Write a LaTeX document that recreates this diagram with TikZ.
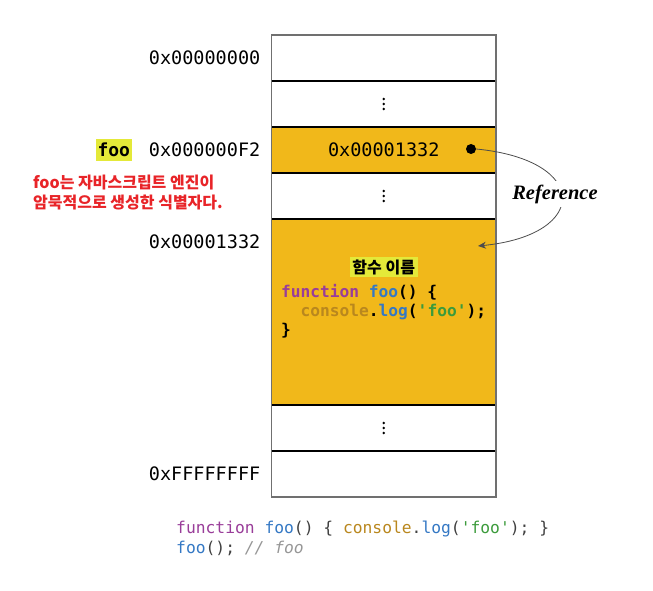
\documentclass[tikz,border=0pt]{standalone}
\usepackage{fontspec}
\setmonofont{DejaVu Sans Mono}
\newfontfamily\kr{Noto Sans CJK KR}
\newfontfamily\refserif{Liberation Serif}
\usepackage{tikz}
\usetikzlibrary{arrows.meta,positioning,calc}
\definecolor{memyellow}{RGB}{241,184,26}
\definecolor{hlyellow}{RGB}{228,233,57}
\definecolor{framegray}{RGB}{112,112,112}
\definecolor{notered}{RGB}{232,36,40}
\definecolor{kwpurple}{RGB}{153,61,153}
\definecolor{fnblue}{RGB}{52,120,196}
\definecolor{objochre}{RGB}{185,135,30}
\definecolor{strgreen}{RGB}{60,155,60}
\definecolor{cmtgray}{RGB}{150,150,150}

\begin{document}
\begin{tikzpicture}[
  x=1pt, y=-1pt,
  row/.style={
    draw=black,
    line width=1.2pt,
    minimum width=224.5pt,
    minimum height=46pt,
    inner sep=0pt,
    outer sep=0pt,
    font=\ttfamily\fontsize{18.5}{20}\selectfont
  },
  addr/.style={inner sep=0pt, font=\ttfamily\fontsize{18.5}{20}\selectfont},
  hl/.style={fill=hlyellow, inner xsep=1.5pt, inner ysep=2pt},
  refline/.style={draw=black!70, line width=0.8pt, -{Stealth[length=8pt,width=7pt]}}
]
\useasboundingbox (0,0) rectangle (653,591);

% memory cells
\node[row, anchor=north west] (r1) at (271.5,35) {};
\node[row, below=0pt of r1] (r2) {};
\node[row, fill=memyellow, below=0pt of r2] (r3) {0x00001332};
\node[row, below=0pt of r3] (r4) {};
\node[row, fill=memyellow, minimum height=186pt, below=0pt of r4] (r5) {};
\node[row, below=0pt of r5] (r6) {};
\node[row, below=0pt of r6] (r7) {};
\draw[framegray, line width=1.5pt] (r1.north west) rectangle (r7.south east);
\foreach \r in {r2,r4,r6}
  \foreach \d in {-5,0,5}
    \fill ($(\r.center)+(0,\d)$) circle (1.3pt);

% addresses
\node[addr, left=11pt of r1] (a1) {0x00000000};
\node[addr, left=11pt of r3] (a3) {0x000000F2};
\node[addr, anchor=east] (a5) at ($(r5.north west)+(-11,23)$) {0x00001332};
\node[addr, left=11pt of r7] (a7) {0xFFFFFFFF};

\node[hl, minimum height=21pt, font=\ttfamily\bfseries\fontsize{18}{20}\selectfont,
  left=17pt of a3] (foo) {foo};
\node[anchor=west, align=left, inner sep=0pt, text=notered,
  font=\kr\bfseries\fontsize{16}{20}\selectfont] (note) at (33,193)
  {foo는 자바스크립트 엔진이\\암묵적으로 생성한 식별자다.};

% function object
\node[hl, inner xsep=2.5pt, font=\kr\bfseries\fontsize{16}{18}\selectfont]
  (fname) at ($(r5.north)+(0,48)$) {함수 이름};
\node[anchor=west, align=left, inner sep=0pt,
  font=\ttfamily\bfseries\fontsize{16.2}{19}\selectfont] (body) at ($(r5.west)+(9.5,-1)$)
  {\textcolor{kwpurple}{function} \textcolor{fnblue}{foo}() \{\\
   \ \ \textcolor{objochre}{console}.\textcolor{fnblue}{log}(\textcolor{strgreen}{'foo'});\\
   \}};

% reference
\node[circle, fill=black, minimum size=10pt, inner sep=0pt] (dot) at ($(r3.east)+(-25,-1)$) {};
\coordinate (tgt) at ($(r5.north east)+(-18,27)$);
\draw[refline] (dot.east) .. controls (590,160) and (590,235) .. (tgt);
\node[fill=white, inner ysep=4pt, font=\refserif\bfseries\itshape\fontsize{20.5}{22}\selectfont] (ref) at (555,194) {Reference};

% source code
\node[anchor=west, align=left, inner sep=0pt, text=black!75,
  font=\ttfamily\fontsize{16.3}{20}\selectfont] (src) at (176,538)
  {\textcolor{kwpurple}{function} \textcolor{fnblue}{foo}() \{ \textcolor{objochre}{console}.\textcolor{fnblue}{log}(\textcolor{strgreen}{'foo'}); \}\\
   \textcolor{fnblue}{foo}(); \textcolor{cmtgray}{\itshape // foo}};
\end{tikzpicture}
\end{document}
